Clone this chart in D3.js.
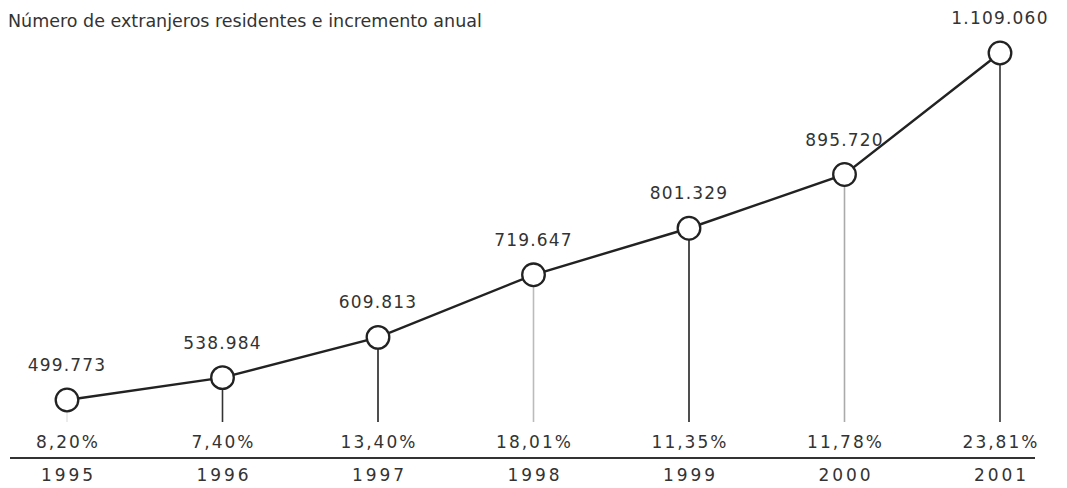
<!DOCTYPE html>
<html><head><meta charset="utf-8">
<script src="https://cdn.jsdelivr.net/npm/d3@7"></script>
<style>
body{margin:0;background:#fff;}
text{font-family:"DejaVu Sans",sans-serif;fill:#333;}
</style></head>
<body><svg id="c" width="1067" height="488"></svg>
<script>
const years = ["1995","1996","1997","1998","1999","2000","2001"];
const residents = [499773,538984,609813,719647,801329,895720,1109060];
const residentLabels = ["499.773","538.984","609.813","719.647","801.329","895.720","1.109.060"];
const growthLabels = ["8,20%","7,40%","13,40%","18,01%","11,35%","11,78%","23,81%"];
const title = "Número de extranjeros residentes e incremento anual";

const svg = d3.select("#c");
const x = d3.scalePoint().domain(years).range([67,1000]);
const y = d3.scaleLinear().domain([499773,1109060]).range([400,53]);
const stemBottom = 422, axisY = 458;
const stemColor = ["#e8e8e8","#333","#222","#bbb","#222","#aaa","#333"];

svg.append("text").attr("x",8).attr("y",27).attr("font-size",17.5).attr("fill","#444").text(title);

// stems
svg.selectAll(".stem").data(years).join("line")
  .attr("x1",d=>x(d)).attr("x2",d=>x(d))
  .attr("y1",(d,i)=>y(residents[i])).attr("y2",stemBottom)
  .attr("stroke",(d,i)=>stemColor[i]).attr("stroke-width",1.6);

// line
svg.append("path").datum(years)
  .attr("d",d3.line().x(d=>x(d)).y((d,i)=>y(residents[i])))
  .attr("fill","none").attr("stroke","#222").attr("stroke-width",2.4);

// circles
svg.selectAll(".pt").data(years).join("circle")
  .attr("cx",d=>x(d)).attr("cy",(d,i)=>y(residents[i])).attr("r",11.3)
  .attr("fill","#fff").attr("stroke","#222").attr("stroke-width",2.3);

// value labels
svg.selectAll(".val").data(years).join("text")
  .attr("x",d=>x(d)).attr("y",(d,i)=>y(residents[i])-29)
  .attr("text-anchor","middle").attr("font-size",17).attr("letter-spacing",1.2)
  .text((d,i)=>residentLabels[i]);

// growth labels
svg.selectAll(".gr").data(years).join("text")
  .attr("x",d=>x(d)+1).attr("y",448)
  .attr("text-anchor","middle").attr("font-size",17).attr("letter-spacing",2)
  .text((d,i)=>growthLabels[i]);

// axis
svg.append("line").attr("x1",10).attr("x2",1035).attr("y1",axisY).attr("y2",axisY)
  .attr("stroke","#333").attr("stroke-width",2);
const ax = svg.append("g").attr("transform",`translate(0,${axisY})`)
  .call(d3.axisBottom(x).tickSize(0).tickPadding(11));
ax.select(".domain").remove();
ax.selectAll("text").attr("x",1).attr("font-size",17).attr("letter-spacing",3)
  .attr("font-family","DejaVu Sans").attr("fill","#333");
</script></body></html>
